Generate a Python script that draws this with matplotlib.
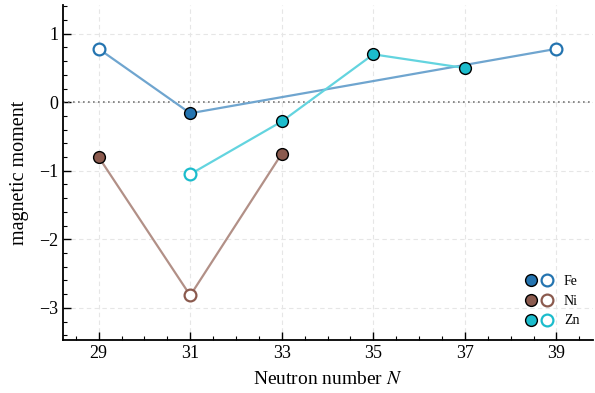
import matplotlib
matplotlib.use("Agg")
import matplotlib.pyplot as plt
from matplotlib.legend_handler import HandlerTuple
from matplotlib.lines import Line2D
from matplotlib.ticker import MultipleLocator

plt.rcParams["font.family"] = ["Liberation Serif", "DejaVu Serif"]
plt.rcParams["mathtext.fontset"] = "stix"

# magnetic moments per isotope chain; filled = True for filled markers
fe_n = [29, 31, 39]
fe_mu = [0.78, -0.16, 0.78]
fe_filled = [False, True, False]

ni_n = [29, 31, 33]
ni_mu = [-0.80, -2.82, -0.75]
ni_filled = [True, False, True]

zn_n = [31, 33, 35, 37]
zn_mu = [-1.05, -0.28, 0.70, 0.50]
zn_filled = [False, True, True, True]

series = [("Fe", fe_n, fe_mu, fe_filled, "#2474b0", "#6fa5cf"),
          ("Ni", ni_n, ni_mu, ni_filled, "#8b5a4e", "#b29087"),
          ("Zn", zn_n, zn_mu, zn_filled, "#1bbccc", "#63d4df")]

fig = plt.figure(figsize=(5.95, 3.93), dpi=100)
ax = fig.add_axes([63 / 595, 53 / 393, 530 / 595, 335 / 393])

ax.axhline(0, color="#777777", ls=(0, (1, 2)), lw=1.2, zorder=1)

handles = []
labels = []
for name, n, mu, filled, col, lcol in series:
    ax.plot(n, mu, color=lcol, lw=1.6, zorder=2)
    for x, y, f in zip(n, mu, filled):
        if f:
            ax.plot(x, y, "o", ms=8.5, mfc=col, mec="black", mew=1.0, zorder=3)
        else:
            ax.plot(x, y, "o", ms=8.5, mfc="white", mec=col, mew=1.6, zorder=3)
    h1 = Line2D([], [], ls="none", marker="o", ms=8.5, mfc=col, mec="black", mew=1.0)
    h2 = Line2D([], [], ls="none", marker="o", ms=8.5, mfc="white", mec=col, mew=1.6)
    handles.append((h1, h2))
    labels.append(name)

ax.legend(handles, labels,
          handler_map={tuple: HandlerTuple(ndivide=None, pad=0.3)},
          loc="lower right", bbox_to_anchor=(0.998, 0.0),
          frameon=False, fontsize=10, handlelength=2.0,
          handletextpad=0.8, labelspacing=0.5)

ax.set_xticks([29, 31, 33, 35, 37, 39])
ax.set_yticks([-3, -2, -1, 0, 1])
ax.xaxis.set_minor_locator(MultipleLocator(0.5))
ax.yaxis.set_minor_locator(MultipleLocator(0.2))
ax.set_xlim(28.22, 39.8)
ax.set_ylim(-3.47, 1.42)

ax.tick_params(which="both", direction="in", labelsize=13)
ax.tick_params(which="major", length=6, width=1.0)
ax.tick_params(which="minor", length=3, width=0.8)
ax.grid(which="major", ls=(0, (4, 3)), color="#e6e6e6", lw=0.8)
ax.set_axisbelow(True)

for side in ["top", "right"]:
    ax.spines[side].set_visible(False)
for side in ["left", "bottom"]:
    ax.spines[side].set_linewidth(1.3)

ax.set_xlabel("Neutron number $N$", fontsize=14)
ax.set_ylabel("magnetic moment", fontsize=14.5)
ax.xaxis.set_label_coords(0.5, -0.093)
ax.yaxis.set_label_coords(-0.064, 0.5)

fig.savefig("out.png", dpi=100)
